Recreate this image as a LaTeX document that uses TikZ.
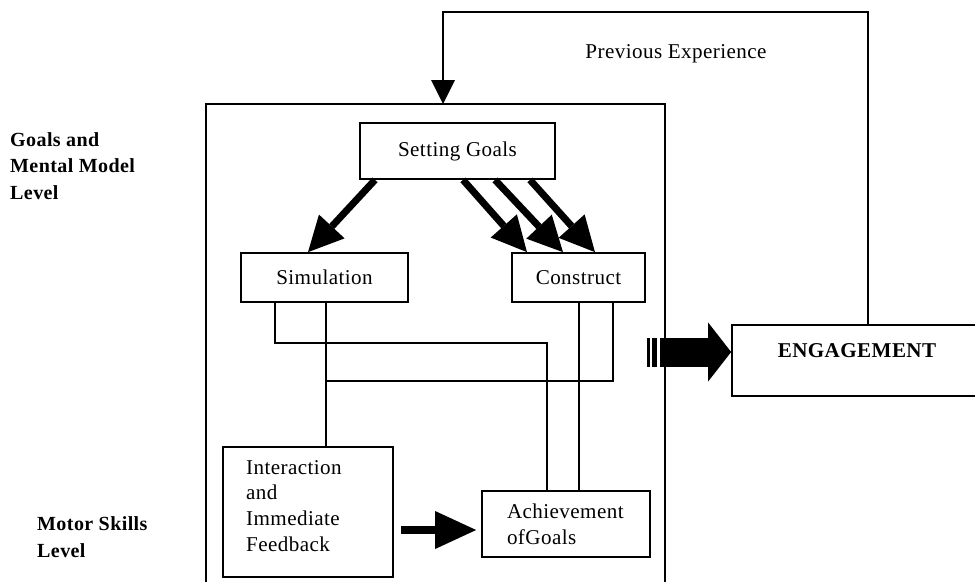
\documentclass[tikz,border=0pt]{standalone}
\usepackage{fontspec}
\setmainfont{Liberation Serif}[LetterSpace=2]
\usetikzlibrary{arrows.meta}
\tikzset{every node/.style={font=\fontsize{12}{14.7}\selectfont},box/.style={draw,line width=1pt,inner sep=0pt},link/.style={line width=1pt},lvl/.style={font=\fontsize{11.4}{15}\selectfont\bfseries,align=left},fat/.style={line width=.14cm,-{Triangle[length=.7cm,width=.7cm,line width=0pt]}}}
\begin{document}
\begin{tikzpicture}[x=.02cm,y=-.02cm]
\useasboundingbox (0,0) rectangle (975,582);
\node[box,minimum width=3.9cm,minimum height=1.12cm] (sg) at (457.5,151) {Setting Goals};
\node[box,minimum width=3.34cm,minimum height=.98cm] (sim) at (324.5,277.5) {Simulation};
\node[box,minimum width=2.66cm,minimum height=.98cm] (con) at (578.5,277.5) {Construct};
\node[box,minimum width=3.4cm,minimum height=2.6cm] (int) at (308,512) {};
\node[anchor=west,align=left] (intT) at (240,506) {Interaction\\and\\Immediate\\Feedback};
\node[box,minimum width=3.36cm,minimum height=1.32cm,align=left,text width=2.36cm] (ach) at (566,524) {Achievement\\ofGoals};
\node[box,minimum width=5.16cm,minimum height=1.42cm] (eng) at (861,360.5) {};
\node[font=\fontsize{12}{14}\selectfont\bfseries] (engT) at (857,351) {ENGAGEMENT};
\node (prev) at (676,54) {Previous Experience};
\node[lvl,anchor=west] (gm) at (4,166) {Goals and\\Mental Model\\Level};
\node[lvl,anchor=west] (ms) at (31,537) {Motor Skills\\Level};
\coordinate (top) at (443,104);\coordinate (engin) at (647,352);
\draw[link] (206,582) |- (665,104) -- (665,582);
\draw[link,-{Triangle[length=.48cm,width=.48cm,line width=0pt]}] (eng.north -| 868,0) |- (443,12) -- (top);
\draw[fat] (sg.south -| 375,0) -- (sim.north -| 308,0);
\foreach \a/\b in {463/527,495/563,530/595} \draw[fat] (sg.south -| \a,0) -- (con.north -| \b,0);
\draw[link] (sim.south -| 275,0) |- (547,343) -- (ach.north -| 547,0);
\draw[link] (sim.south -| 326,0) -- (int.north -| 326,0);
\draw[link] (326,381) -| (con.south -| 613,0);
\draw[link] (con.south -| 579,0) -- (ach.north -| 579,0);
\draw[line width=.16cm,-{Triangle[length=.82cm,width=.76cm,line width=0pt]},shorten <=.14cm,shorten >=.1cm] (int.east |- 0,530) -- (ach.west |- 0,530);
\draw[line width=.58cm,-{Triangle[length=.46cm,width=1.18cm,line width=0pt]}] (engin) -- (eng.west |- engin);
\draw[white,line width=.025cm] (651,337) -- (651,367);
\draw[white,line width=.06cm] (658.5,337) -- (658.5,367);
\end{tikzpicture}
\end{document}
